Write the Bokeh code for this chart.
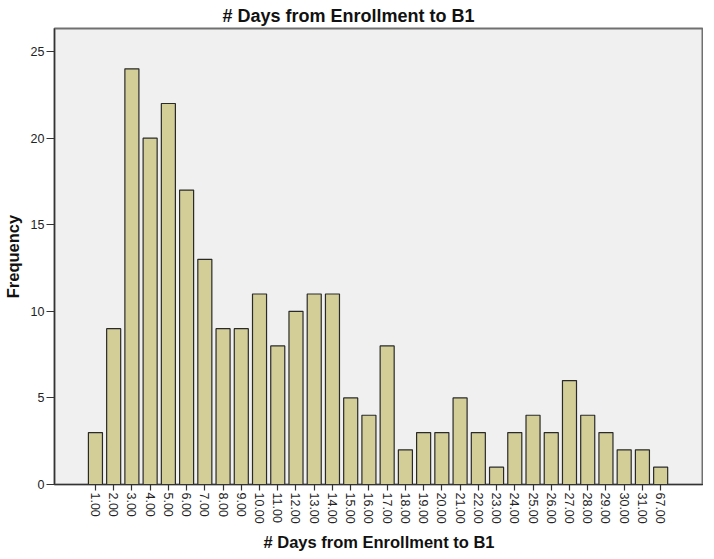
import math
from bokeh.plotting import figure
from bokeh.models import Range1d, FixedTicker, ColumnDataSource
from bokeh.embed import file_html
from bokeh.resources import INLINE

categories = ["1.00", "2.00", "3.00", "4.00", "5.00", "6.00", "7.00", "8.00", "9.00", "10.00",
              "11.00", "12.00", "13.00", "14.00", "15.00", "16.00", "17.00", "18.00", "19.00", "20.00",
              "21.00", "22.00", "23.00", "24.00", "25.00", "26.00", "27.00", "28.00", "29.00", "30.00",
              "31.00", "67.00"]
frequency = [3, 9, 24, 20, 22, 17, 13, 9, 9, 11,
             8, 10, 11, 11, 5, 4, 8, 2, 3, 3,
             5, 3, 1, 3, 4, 3, 6, 4, 3, 2,
             2, 1]
y_ticks = [0, 5, 10, 15, 20, 25]

positions = list(range(len(categories)))
source = ColumnDataSource(data=dict(x=positions, top=frequency, label=categories))

FONT = "Liberation Sans"

p = figure(frame_width=649, frame_height=456, output_backend="svg", toolbar_location=None,
           x_range=Range1d(-2.245, 33.35), y_range=Range1d(0, 26.33),
           min_border_left=48, min_border_right=0, min_border_top=0, min_border_bottom=0,
           title="# Days from Enrollment to B1")

p.vbar(x="x", top="top", bottom=0, width=0.77, source=source,
       fill_color="#D3CE97", line_color="#2a2a2a", line_width=1.2)

p.background_fill_color = "#F0F0F0"
p.border_fill_color = "white"
p.outline_line_color = "#707070"
p.outline_line_width = 2
p.grid.visible = False

p.title.align = "left"
p.title.offset = 168
p.title.text_font = FONT
p.title.text_font_size = "18px"
p.title.text_font_style = "bold"
p.title.text_color = "#111111"
p.title.text_line_height = 1.0
p.title.standoff = 6

p.xaxis.ticker = FixedTicker(ticks=positions)
p.xaxis.major_label_overrides = {i: c for i, c in zip(positions, categories)}
p.xaxis.major_label_orientation = -math.pi / 2
p.yaxis.ticker = FixedTicker(ticks=y_ticks)

for ax in (p.xaxis[0], p.yaxis[0]):
    ax.axis_line_color = "#333333"
    ax.axis_line_width = 1.2
    ax.major_tick_line_color = "#333333"
    ax.major_tick_line_width = 1.2
    ax.major_tick_in = 0
    ax.minor_tick_line_color = None
    ax.major_label_text_font = FONT
    ax.major_label_text_font_size = "12.5px"
    ax.major_label_text_color = "#222222"
    ax.axis_label_text_font = FONT
    ax.axis_label_text_font_size = "16.5px"
    ax.axis_label_text_font_style = "bold"
    ax.axis_label_text_color = "#111111"
    ax.axis_label_text_line_height = 1.0

p.xaxis.major_tick_out = 6
p.xaxis.major_label_standoff = 2
p.xaxis.axis_label = "# Days from Enrollment to B1"
p.xaxis.axis_label_standoff = 6

p.yaxis.major_tick_out = 8
p.yaxis.major_label_standoff = 2
p.yaxis.axis_label = "Frequency"
p.yaxis.axis_label_standoff = 6

open("out.html", "w").write(file_html(p, INLINE))
